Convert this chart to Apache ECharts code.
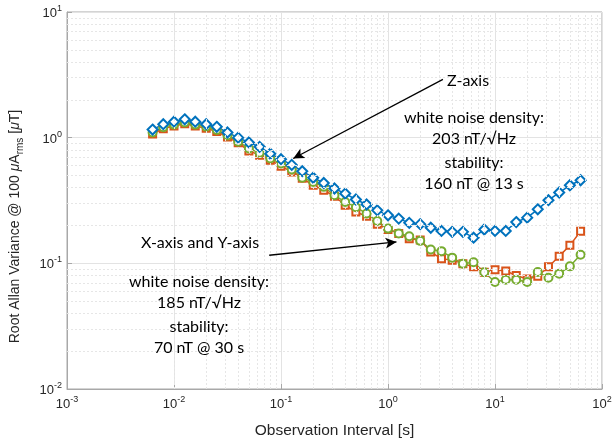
<!DOCTYPE html>
<html>
<head>
<meta charset="utf-8">
<script src="https://cdn.jsdelivr.net/npm/echarts@6/dist/echarts.min.js"></script>
<style>
  html, body { margin: 0; padding: 0; background: #fff; }
  #chart { width: 616px; height: 444px; }
</style>
</head>
<body>
<div id="chart"></div>
<script>
// observation interval [s]
const tau = [0.00631, 0.00794, 0.01, 0.0126, 0.0158, 0.02, 0.0251, 0.0316, 0.0398, 0.0501,
  0.0631, 0.0794, 0.1, 0.126, 0.158, 0.2, 0.251, 0.316, 0.398, 0.501,
  0.631, 0.794, 1, 1.26, 1.58, 2, 2.51, 3.16, 3.98, 5.01,
  6.31, 7.94, 10, 12.6, 15.8, 20, 25.1, 31.6, 39.8, 50.1, 63.1]

// root Allan variance [uT]
const xAxisData = [1.07, 1.18, 1.24, 1.29, 1.24, 1.19, 1.12, 1.01, 0.91, 0.785,
  0.726, 0.662, 0.593, 0.534, 0.475, 0.418, 0.382, 0.342, 0.290, 0.256,
  0.237, 0.205, 0.186, 0.173, 0.157, 0.153, 0.123, 0.109, 0.106, 0.0994,
  0.094, 0.085, 0.089, 0.087, 0.080, 0.075, 0.079, 0.094, 0.114, 0.139, 0.180]
const yAxisData = [1.10, 1.21, 1.27, 1.32, 1.27, 1.22, 1.15, 1.04, 0.93, 0.820,
  0.757, 0.683, 0.623, 0.558, 0.48, 0.444, 0.406, 0.348, 0.308, 0.28,
  0.249, 0.217, 0.189, 0.173, 0.164, 0.151, 0.129, 0.125, 0.111, 0.0994,
  0.102, 0.085, 0.071, 0.0741, 0.0741, 0.071, 0.0853, 0.0769, 0.0828, 0.0946, 0.117]
const zAxisData = [1.16, 1.28, 1.34, 1.40, 1.34, 1.28, 1.22, 1.10, 1.00, 0.916,
  0.845, 0.745, 0.674, 0.607, 0.541, 0.48, 0.436, 0.394, 0.359, 0.322,
  0.294, 0.264, 0.241, 0.227, 0.210, 0.205, 0.192, 0.181, 0.178, 0.178,
  0.160, 0.186, 0.181, 0.181, 0.213, 0.231, 0.269, 0.318, 0.366, 0.418, 0.458]

// minor grid positions (2..9 per decade)
const minorX = [2, 3, 4, 5, 6, 7, 8, 9].flatMap(k => [k * 1e-3, k * 1e-2, k * 1e-1, k * 1, k * 10])
const minorY = [2, 3, 4, 5, 6, 7, 8, 9].flatMap(k => [k * 1e-2, k * 1e-1, k * 1])

// annotation arrows [from, to] in data coordinates
const zArrow = [[3.26, 2.91], [0.13, 0.683]]
const xyArrow = [[0.0776, 0.116], [1.2, 0.148]]

const textColor = '#262626'
const boxColor = '#a8a8a8'
const tickFont = 'Liberation Sans'
const noteFont = 'Lato'

const tickRich = {
  b: { fontSize: 13, fontFamily: tickFont, color: textColor, verticalAlign: 'bottom' },
  s: { fontSize: 9, fontFamily: tickFont, color: textColor, verticalAlign: 'bottom', padding: [0, 0, 7, 0] }
}
const powLabel = v => '{b|10}{s|' + Math.round(Math.log10(v)) + '}'

const chart = echarts.init(document.getElementById('chart'))

function xyData(ys) {
  return tau.map((t, i) => [t, ys[i]])
}

function markerSeries(name, ys, color, symbol, size) {
  return {
    name: name,
    type: 'line',
    data: xyData(ys),
    symbol: symbol,
    symbolSize: size,
    showAllSymbol: true,
    lineStyle: { color: color, width: 1.5 },
    itemStyle: { color: color, borderColor: color, borderWidth: 1.6 },
    z: 3
  }
}

function note(text, x, y) {
  return {
    type: 'text', x: x, y: y, z: 100,
    style: {
      text: text, fontSize: 16, lineHeight: 21,
      fontFamily: noteFont, fill: '#000', align: 'center'
    }
  }
}

const option = {
  animation: false,
  backgroundColor: '#fff',
  grid: {
    left: 63, right: 14, top: 12, bottom: 55,
    show: true, borderColor: boxColor, borderWidth: 1
  },
  xAxis: {
    type: 'log', logBase: 10, min: 0.001, max: 100, interval: 1,
    name: 'Observation Interval [s]',
    nameLocation: 'middle', nameGap: 34,
    nameTextStyle: { fontSize: 15.5, fontFamily: tickFont, color: textColor },
    axisLine: { lineStyle: { color: boxColor } },
    axisTick: { inside: true, length: 5, lineStyle: { color: boxColor } },
    axisLabel: { formatter: powLabel, rich: tickRich, margin: 6 },
    splitLine: { show: true, lineStyle: { color: '#e3e3e3' } }
  },
  yAxis: {
    type: 'log', logBase: 10, min: 0.01, max: 10, interval: 1,
    name: '{n|Root Allan Variance @ 100 }{m|μ}{n|A}{r|rms}{n| [}{m|μ}{n|T]}',
    nameLocation: 'middle', nameGap: 45, nameRotate: 90,
    nameTextStyle: {
      padding: [0, 52, 0, 0],
      rich: {
        n: { fontSize: 14, fontFamily: tickFont, color: textColor, verticalAlign: 'bottom' },
        m: { fontSize: 14, fontFamily: tickFont, fontStyle: 'italic', color: textColor, verticalAlign: 'bottom' },
        r: { fontSize: 10, fontFamily: tickFont, color: textColor, verticalAlign: 'bottom', padding: [0, 0, -3, 0] }
      }
    },
    axisLine: { show: true, lineStyle: { color: boxColor } },
    axisTick: { show: true, inside: true, length: 5, lineStyle: { color: boxColor } },
    axisLabel: { formatter: powLabel, rich: tickRich, margin: 5 },
    splitLine: { show: true, lineStyle: { color: '#e3e3e3' } }
  },
  series: [
    {
      type: 'line',
      data: [],
      silent: true,
      z: 1,
      markLine: {
        silent: true,
        symbol: 'none',
        label: { show: false },
        lineStyle: { color: '#e6e6e6', type: [2, 2], width: 1 },
        data: minorX.map(v => ({ xAxis: v })).concat(minorY.map(v => ({ yAxis: v })))
      }
    },
    markerSeries('X-axis', xAxisData, '#D95319', 'emptyRect', 7),
    markerSeries('Y-axis', yAxisData, '#77AC30', 'emptyCircle', 8),
    Object.assign(markerSeries('Z-axis', zAxisData, '#0072BD', 'emptyDiamond', 10), {
      markLine: {
        silent: true,
        symbol: ['none', 'arrow'],
        symbolSize: [8, 11],
        label: { show: false },
        lineStyle: { color: '#000', type: 'solid', width: 1.3 },
        data: [
          [{ coord: zArrow[0] }, { coord: zArrow[1] }],
          [{ coord: xyArrow[0] }, { coord: xyArrow[1] }]
        ]
      }
    })
  ],
  graphic: [
    note('Z-axis', 468, 70),
    note('white noise density:\n203 nT/√Hz', 474, 107),
    note('stability:\n160 nT @ 13 s', 474, 152),
    note('X-axis and Y-axis', 200, 232),
    note('white noise density:\n185 nT/√Hz', 199, 271),
    note('stability:\n70 nT @ 30 s', 199, 316)
  ]
}

chart.setOption(option)
</script>
</body>
</html>
